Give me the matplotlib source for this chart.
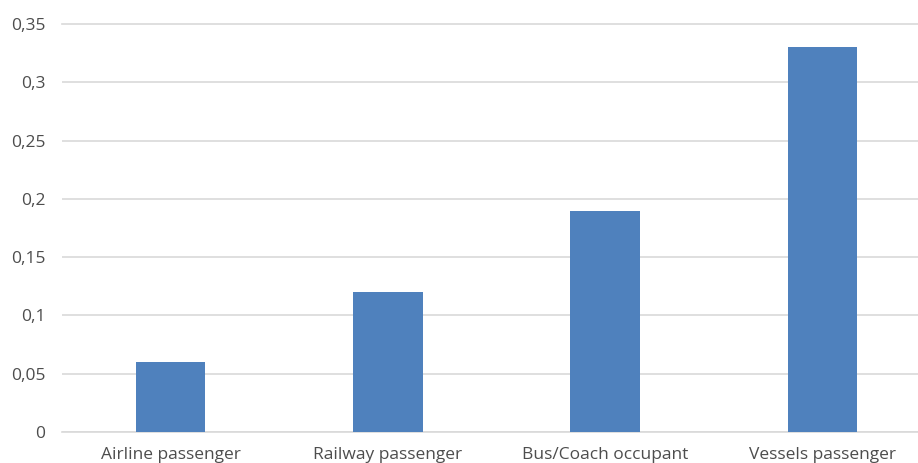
import matplotlib.pyplot as plt
from matplotlib.ticker import FuncFormatter

categories = ['Airline passenger', 'Railway passenger', 'Bus/Coach occupant', 'Vessels passenger']
values = [0.06, 0.12, 0.19, 0.33]
yticks = [0, 0.05, 0.1, 0.15, 0.2, 0.25, 0.3, 0.35]

plt.rcParams['font.family'] = ['Open Sans', 'DejaVu Sans']

W, H = 918, 463
fig = plt.figure(figsize=(W / 100, H / 100), dpi=100)
# axes placed in pixel terms: left 62, right 918, bottom y=432, top y=24
ax = fig.add_axes([62 / W, (H - 432) / H, (W - 62) / W, (432 - 24) / H])

x = range(len(categories))
ax.bar(x, values, width=0.32, color='#4F81BD', zorder=3)

ax.set_xlim(-0.5, 3.44)
ax.set_ylim(0, 0.35)
ax.set_yticks(yticks)
ax.yaxis.set_major_formatter(FuncFormatter(lambda v, p: ('%g' % round(v, 2)).replace('.', ',')))
ax.set_xticks(list(x))
ax.set_xticklabels(categories)

ax.grid(axis='y', color='#D9D9D9', linewidth=1.2, zorder=0)
ax.yaxis.get_gridlines()[-1].set_clip_on(False)
for s in ['top', 'right', 'left']:
    ax.spines[s].set_visible(False)
ax.spines['bottom'].set_color('#D9D9D9')
ax.spines['bottom'].set_linewidth(1.2)

ax.tick_params(axis='both', length=0, labelsize=12.5, labelcolor='#4D4D4D')
ax.tick_params(axis='y', pad=12)
ax.tick_params(axis='x', pad=11)

fig.savefig('out.png', dpi=100)
